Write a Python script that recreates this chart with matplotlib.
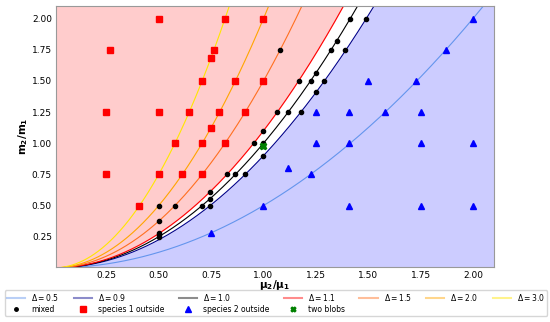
import numpy as np
import matplotlib
matplotlib.use("Agg")
import matplotlib.pyplot as plt
from matplotlib.lines import Line2D

# Curve parameters (m2/m1 = Delta * (mu2/mu1)^2)
deltas = [0.5, 0.9, 1.0, 1.1, 1.5, 2.0, 3.0]
delta_colors = ["cornflowerblue", "darkblue", "black", "red", "#ff7020", "orange", "#ffe600"]

# mixed
mixed_x = [1.08, 1.414, 1.49, 1.35, 1.32, 1.39, 1.25, 1.17, 1.225, 1.29, 1.25,
           1.065, 1.118, 1.18, 1.0, 0.953, 1.0, 1.0, 0.825, 0.866, 0.913,
           0.745, 0.745, 0.745, 0.705, 0.577, 0.5, 0.5, 0.5, 0.5, 0.5]
mixed_y = [1.75, 2.0, 2.0, 1.82, 1.75, 1.75, 1.565, 1.5, 1.5, 1.5, 1.41,
           1.25, 1.25, 1.25, 1.1, 1.0, 1.0, 0.9, 0.75, 0.75, 0.75,
           0.5, 0.555, 0.61, 0.5, 0.5, 0.5, 0.375, 0.28, 0.265, 0.25]

# species 1 outside
sp1_x = [0.5, 0.816, 1.0, 0.267, 0.764, 0.75, 0.707, 0.866, 1.0, 0.25, 0.5,
         0.645, 0.79, 0.913, 0.75, 0.577, 0.707, 0.816, 0.25, 0.5, 0.612, 0.707, 0.408]
sp1_y = [2.0, 2.0, 2.0, 1.75, 1.75, 1.687, 1.5, 1.5, 1.5, 1.25, 1.25,
         1.25, 1.25, 1.25, 1.125, 1.0, 1.0, 1.0, 0.75, 0.75, 0.75, 0.75, 0.5]

# species 2 outside
sp2_x = [2.0, 1.87, 1.5, 1.73, 1.25, 1.41, 1.58, 1.75, 1.25, 1.41, 1.75, 2.0,
         1.118, 1.225, 1.0, 1.41, 1.75, 2.0, 0.75]
sp2_y = [2.0, 1.75, 1.5, 1.5, 1.25, 1.25, 1.25, 1.25, 1.0, 1.0, 1.0, 1.0,
         0.8, 0.75, 0.5, 0.5, 0.5, 0.5, 0.28]

# two blobs
blob_x = [1.0]
blob_y = [0.98]

ticks = [0.25, 0.5, 0.75, 1.0, 1.25, 1.5, 1.75, 2.0]
xlim = (0.01, 2.1)
ylim = (0.01, 2.1)

fig = plt.figure(figsize=(5.5, 3.22), dpi=100)
ax = fig.add_axes([0.102, 0.172, 0.796, 0.809])

xg = np.linspace(0.0, xlim[1], 600)
top = ylim[1] + 0.1
lo_b = np.minimum(0.9 * xg ** 2, top)
hi_b = np.minimum(1.1 * xg ** 2, top)
ax.fill_between(xg, hi_b, top, color="red", alpha=0.2, linewidth=0)
ax.fill_between(xg, 0, lo_b, color="blue", alpha=0.2, linewidth=0)

for d, c in zip(deltas, delta_colors):
    ax.plot(xg, d * xg ** 2, color=c, lw=0.8)

ax.plot(mixed_x, mixed_y, "o", color="black", ms=3.0, ls="none")
ax.plot(sp1_x, sp1_y, "s", color="red", ms=4.8, ls="none")
ax.plot(sp2_x, sp2_y, "^", color="blue", ms=4.8, ls="none")
ax.plot(blob_x, blob_y, "X", color="green", ms=4.5, ls="none")

ax.set_xlim(*xlim)
ax.set_ylim(*ylim)
ax.set_xticks(ticks)
ax.set_yticks(ticks)
ax.set_xticklabels([f"{t:.2f}" for t in ticks])
ax.set_yticklabels([f"{t:.2f}" for t in ticks])
ax.tick_params(length=0, pad=3, labelsize=6.5)
for s in ax.spines.values():
    s.set_color("#999999")
    s.set_linewidth(0.8)
ax.set_xlabel(r"$\mathbf{\mu_2/\mu_1}$", fontsize=7.5)
ax.xaxis.set_label_coords(0.5, -0.045)
ax.set_ylabel(r"$\mathbf{m_2/m_1}$", fontsize=7.5, labelpad=1)

line_handles = [Line2D([], [], color=c, lw=1.5, alpha=0.45) for c in delta_colors]
line_labels = [rf"$\Delta = {d}$" for d in deltas]
mk_handles = [
    Line2D([], [], marker="o", color="black", ms=2.5, ls="none"),
    Line2D([], [], marker="s", color="red", ms=4, ls="none"),
    Line2D([], [], marker="^", color="blue", ms=4, ls="none"),
    Line2D([], [], marker="X", color="green", ms=3.5, ls="none"),
]
mk_labels = ["mixed", "species 1 outside", "species 2 outside", "two blobs"]

handles, labels = [], []
for i in range(7):
    handles.append(line_handles[i]); labels.append(line_labels[i])
    if i < 4:
        handles.append(mk_handles[i]); labels.append(mk_labels[i])

fig.legend(handles, labels, ncol=7, loc="lower left",
           bbox_to_anchor=(0.009, 0.02, 0.986, 0.07), mode="expand",
           fontsize=5.5, handlelength=2.4, frameon=True, borderaxespad=0,
           labelspacing=0.2, borderpad=0.25, handletextpad=0.8)

fig.savefig("out.png", dpi=100)
